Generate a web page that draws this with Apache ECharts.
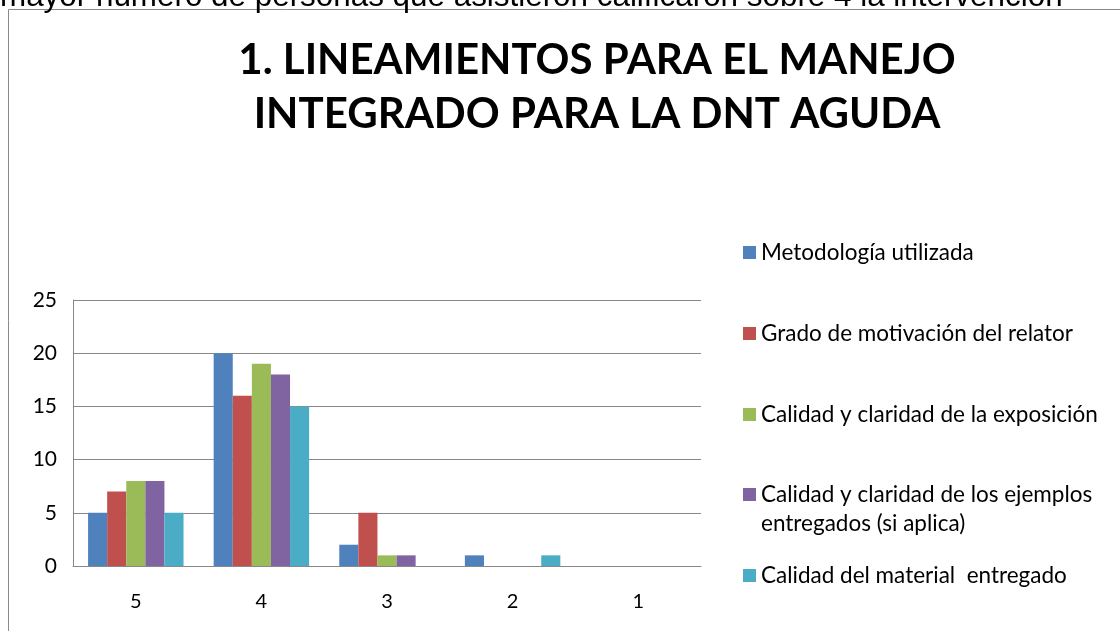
<!DOCTYPE html>
<html>
<head>
<meta charset="utf-8">
<script src="https://cdn.jsdelivr.net/npm/echarts@6/dist/echarts.min.js"></script>
<style>
  html, body { margin: 0; padding: 0; background: #fff; overflow: hidden; }
  #wrap { position: relative; width: 1120px; height: 631px; overflow: hidden; }
  #chart { width: 1120px; height: 631px; }
  #caption {
    position: absolute; left: 0; top: 0; z-index: 2; transform: translateY(-20px);
    font: 31.4px/31px "Liberation Sans", Arial, sans-serif; color: #000; white-space: nowrap;
  }
</style>
</head>
<body>
<div id="wrap">
  <div id="chart"></div>
  <div id="caption">mayor número de personas que asistieron calificaron sobre 4 la intervención</div>
</div>
<script>
// ratings 5..1, how many people gave each score
const categories = ['5', '4', '3', '2', '1'];
const seriesNames = [
  'Metodología utilizada',
  'Grado de motivación del relator',
  'Calidad y claridad de la exposición',
  'Calidad y claridad de los ejemplos\nentregados (si aplica)',
  'Calidad del material  entregado'
];
const metodologia = [5, 20, 2, 1, 0];
const motivacion = [7, 16, 5, 0, 0];
const exposicion = [8, 19, 1, 0, 0];
const ejemplos = [8, 18, 1, 0, 0];
const material = [5, 15, 0, 1, 0];
const colors = ['#4F81BD', '#C0504D', '#9BBB59', '#8064A2', '#4BACC6'];

const chart = echarts.init(document.getElementById('chart'));

const values = [metodologia, motivacion, exposicion, ejemplos, material];
const font = 'Lato';
const legendText = { fontFamily: font, fontSize: 22.5, lineHeight: 29, color: '#000' };
// square on the first line of a two-line legend entry
const topSquare = 'path://M0,0L13,0L13,13L0,13Z M0,42L0.01,42';

chart.setOption({
  animation: false,
  color: colors,
  graphic: [
    {
      type: 'rect', shape: { x: 8.5, y: 9.5, width: 1200, height: 700 },
      style: { fill: 'none', stroke: '#8a8a8a', lineWidth: 1 }
    }
  ],
  title: {
    text: '1. LINEAMIENTOS PARA EL MANEJO\nINTEGRADO PARA LA DNT AGUDA',
    left: 592, top: 28, textAlign: 'center',
    textStyle: { fontFamily: font, fontWeight: 'bold', fontSize: 42, lineHeight: 54, color: '#000' }
  },
  legend: [
    {
      orient: 'vertical', left: 738, top: 233,
      data: seriesNames.slice(0, 3),
      icon: 'rect', itemWidth: 13, itemHeight: 13, itemGap: 52,
      textStyle: legendText
    },
    {
      orient: 'vertical', left: 738, top: 475,
      data: [seriesNames[3]],
      icon: topSquare, itemWidth: 13, itemHeight: 42,
      textStyle: legendText
    },
    {
      orient: 'vertical', left: 738, top: 556,
      data: seriesNames.slice(4),
      icon: 'rect', itemWidth: 13, itemHeight: 13,
      textStyle: legendText
    }
  ],
  grid: { left: 73, right: 419, top: 300, bottom: 65 },
  xAxis: {
    type: 'category',
    data: categories,
    axisLine: { lineStyle: { color: '#888' } },
    axisTick: { show: false },
    axisLabel: { fontFamily: font, fontSize: 20, color: '#000', margin: 26 }
  },
  yAxis: {
    type: 'value',
    min: 0, max: 25, interval: 5,
    axisLine: { show: true, lineStyle: { color: '#888' } },
    splitLine: { lineStyle: { color: '#888' } },
    axisLabel: { fontFamily: font, fontSize: 21, color: '#000', margin: 16 }
  },
  series: values.map((v, i) => ({
    name: seriesNames[i],
    type: 'bar',
    data: v,
    barGap: '0%',
    barCategoryGap: '24%'
  }))
});
</script>
</body>
</html>
